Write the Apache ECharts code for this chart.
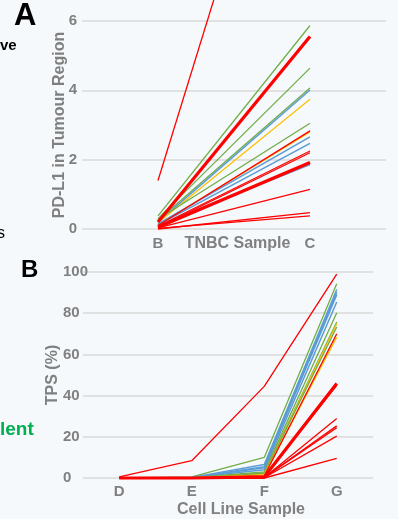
<!DOCTYPE html>
<html>
<head>
<meta charset="utf-8">
<script src="https://cdn.jsdelivr.net/npm/echarts@6/dist/echarts.min.js"></script>
<style>
  html, body { margin: 0; padding: 0; background: #f5f9fc; }
  #chart { width: 398px; height: 519px; }
</style>
</head>
<body>
<div id="chart"></div>
<script>
// panel A: PD-L1 in tumour region, TNBC samples
const tnbcSamples = ['B', 'C'];
const pdl1AtB = [1.4, 0.38, 0.2, 0.3, 0.25, 0.2, 0.18, 0.28, 0.1, 0.12, 0.15, 0.12, 0.08, 0.05, 0.05, 0.1, 0.03, 0.0, 0.02];
const pdl1AtC = [15.6, 5.87, 5.55, 4.64, 4.07, 4.01, 3.74, 3.05, 2.83, 2.8, 2.66, 2.47, 2.25, 2.2, 1.92, 1.86, 1.14, 0.47, 0.38];
const pdl1Group = ['red', 'green', 'redBold', 'green', 'green', 'blue', 'yellow', 'green', 'red', 'yellow', 'blue', 'blue', 'red', 'red', 'redBold', 'blue', 'red', 'red', 'red'];

// panel B: TPS (%), cell line samples
const cellLines = ['D', 'E', 'F', 'G'];
const tpsAtD = [0.5, 0, 0, 0, 0, 0, 0, 0, 0, 0, 0, 0, 0, 0, 0, 0, 0, 0, 0];
const tpsAtE = [8.4, 0.5, 0.3, 0.3, 0.2, 0.2, 0.2, 0.1, 0.1, 0.1, 0, 0.1, 0, 0, 0, 0, 0, 0, 0];
const tpsAtF = [44.5, 10, 6.5, 5.5, 5, 4, 3, 2.5, 2, 2.2, 1, 1.5, 0.5, 0.5, 0.3, 0.2, 0.2, 0.1, 0];
const tpsAtG = [99, 94.3, 91.5, 90.2, 89, 85.4, 80.2, 75.7, 74.9, 73.3, 70, 68.4, 45.9, 45, 28.9, 25.3, 24.4, 20.3, 9.5];
const tpsGroup = ['red', 'green', 'blue', 'blue', 'blue', 'blue', 'green', 'green', 'yellow', 'green', 'red', 'yellow', 'redBold', 'red', 'red', 'red', 'red', 'red', 'red'];

const lineLook = {
  red: { color: '#ff0000', width: 1.3, z: 3 },
  redBold: { color: '#ff0000', width: 3.2, z: 4 },
  green: { color: '#70ad47', width: 1.3, z: 2 },
  blue: { color: '#5b9bd5', width: 1.5, z: 2 },
  yellow: { color: '#ffc000', width: 1.3, z: 2 }
};

const grey = '#808080';
const font = 'Liberation Sans, Arial, sans-serif';

function makeSeries(groups, cols, idx) {
  return groups.map((g, i) => ({
    type: 'line',
    xAxisIndex: idx,
    yAxisIndex: idx,
    data: cols.map(c => c[i]),
    symbol: 'none',
    clip: false,
    silent: true,
    z: lineLook[g].z,
    lineStyle: { color: lineLook[g].color, width: lineLook[g].width }
  }));
}

const chart = echarts.init(document.getElementById('chart'));

const option = {
  backgroundColor: '#f5f9fc',
  animation: false,
  textStyle: { fontFamily: font },
  grid: [
    { left: 82, right: 12, top: 21, bottom: 290 },
    { left: 83, right: 25, top: 272, bottom: 41 }
  ],
  xAxis: [
    {
      gridIndex: 0,
      type: 'category',
      data: tnbcSamples,
      boundaryGap: true,
      axisLine: { show: false },
      axisTick: { show: false },
      axisLabel: { color: grey, fontSize: 15, fontWeight: 'bold', margin: 7 },
      name: 'TNBC Sample',
      nameLocation: 'middle',
      nameGap: 7,
      nameMoveOverlap: false,
      nameTextStyle: { color: grey, fontSize: 16, fontWeight: 'bold', padding: [0, 0, 0, 7] }
    },
    {
      gridIndex: 1,
      type: 'category',
      data: cellLines,
      boundaryGap: true,
      axisLine: { show: false },
      axisTick: { show: false },
      axisLabel: { color: grey, fontSize: 15, fontWeight: 'bold', margin: 6 },
      name: 'Cell Line Sample',
      nameLocation: 'middle',
      nameGap: 24,
      nameMoveOverlap: false,
      nameTextStyle: { color: grey, fontSize: 16, fontWeight: 'bold', padding: [0, 0, 0, 26] }
    }
  ],
  yAxis: [
    {
      gridIndex: 0,
      type: 'value',
      min: 0,
      max: 6,
      interval: 2,
      axisLine: { show: false },
      axisTick: { show: false },
      axisLabel: { color: grey, fontSize: 15, fontWeight: 'bold', margin: 5 },
      splitLine: { lineStyle: { color: '#d9d9d9', width: 1.5 } },
      name: 'PD-L1 in Tumour Region',
      nameLocation: 'middle',
      nameGap: 14,
      nameMoveOverlap: false,
      nameTextStyle: { color: grey, fontSize: 16, fontWeight: 'bold' }
    },
    {
      gridIndex: 1,
      type: 'value',
      min: 0,
      max: 100,
      interval: 20,
      axisLine: { show: false },
      axisTick: { show: false },
      axisLabel: { color: grey, fontSize: 15, fontWeight: 'bold', margin: 20, align: 'left' },
      splitLine: { lineStyle: { color: '#d9d9d9', width: 1.5 } },
      name: 'TPS (%)',
      nameLocation: 'middle',
      nameGap: 22,
      nameMoveOverlap: false,
      nameTextStyle: { color: grey, fontSize: 16, fontWeight: 'bold' }
    }
  ],
  graphic: [
    { type: 'text', left: 14, top: 1, style: { text: 'A', fontSize: 31, fontWeight: 'bold', fill: '#000', fontFamily: font } },
    { type: 'text', left: 21, top: 258, style: { text: 'B', fontSize: 24, fontWeight: 'bold', fill: '#000', fontFamily: font } },
    { type: 'text', left: 0, top: 38, style: { text: 've', fontSize: 15, fontWeight: 'bold', fill: '#000', fontFamily: font } },
    { type: 'text', left: -3, top: 226, style: { text: 's', fontSize: 16, fill: '#000', fontFamily: font } },
    { type: 'text', left: 0, top: 420, style: { text: 'lent', fontSize: 19, fontWeight: 'bold', fill: '#00b050', fontFamily: font } }
  ],
  series: [
    ...makeSeries(pdl1Group, [pdl1AtB, pdl1AtC], 0),
    ...makeSeries(tpsGroup, [tpsAtD, tpsAtE, tpsAtF, tpsAtG], 1)
  ]
};

chart.setOption(option);
</script>
</body>
</html>
